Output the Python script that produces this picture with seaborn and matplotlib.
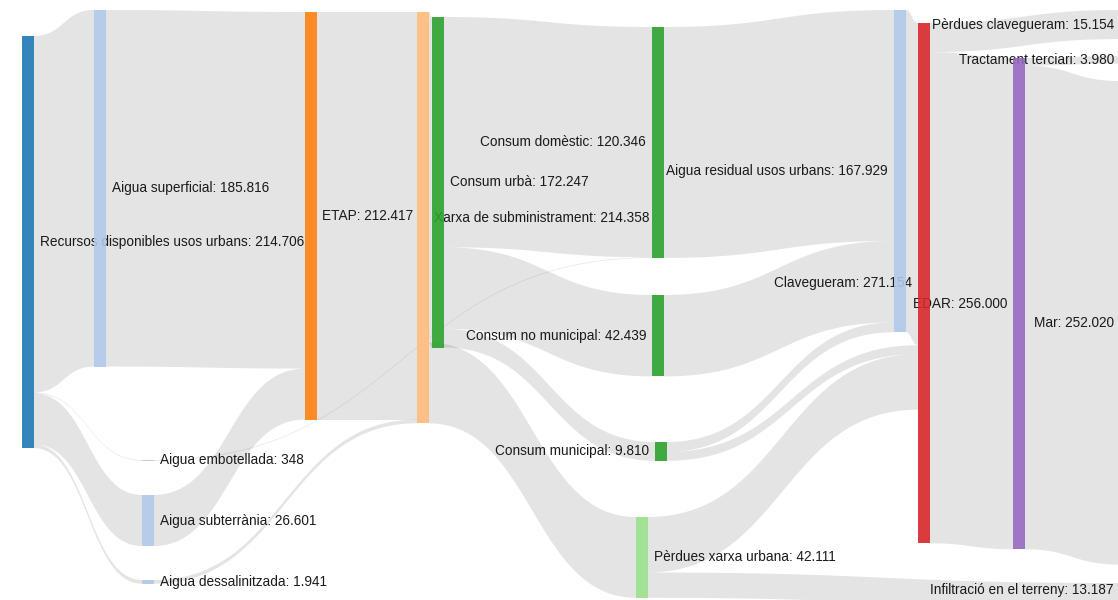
import numpy as np
import matplotlib
matplotlib.use("Agg")
import matplotlib.pyplot as plt
import seaborn as sns

# ---- data: nodes and flows (thousands of m3) ----
node_names = [
    "Recursos disponibles usos urbans", "Aigua superficial", "Aigua embotellada",
    "Aigua subterrània", "Aigua dessalinitzada", "ETAP", "Xarxa de subministrament",
    "Consum urbà", "Consum domèstic", "Consum no municipal", "Consum municipal",
    "Pèrdues xarxa urbana", "Aigua residual usos urbans", "Clavegueram", "EDAR",
    "Mar", "Pèrdues clavegueram", "Tractament terciari", "Infiltració en el terreny",
]
link_source = [0, 0, 0, 0, 1, 3, 5, 4, 6, 6, 7, 2, 7, 7, 8, 9, 10, 10, 12, 11, 11, 13, 13, 14, 14]
link_target = [1, 2, 3, 4, 5, 5, 6, 6, 7, 11, 8, 8, 9, 10, 12, 12, 12, 13, 13, 13, 18, 16, 14, 15, 17]
link_value = [185816, 348, 26601, 1941, 185816, 26601, 212417, 1941, 172247, 42111,
              119998, 348, 42439, 9810, 120346, 42439, 5144, 4666, 167929, 28924,
              13187, 15154, 256000, 252020, 3980]

# ---- layout (pixel space, nodes dragged by hand in the original) ----
node_x = [22, 94, 142, 142, 142, 305, 417, 432, 652, 652, 655, 636, 894, 918, 1013,
          1120, 1120, 1120, 1120]
node_y = [36, 10, 460, 495, 580, 12, 12, 17, 27, 295, 442, 517, 10, 23, 58,
          81, 10, 56, 583]
node_color = [0, 1, 1, 1, 1, 2, 3, 4, 4, 4, 4, 5, 1, 6, 8, 1, 1, 1, 1]
label_side = ["r", "r", "r", "r", "r", "r", "r", "r", "l", "l", "l", "r", "l", "l", "l",
              "l", "l", "l", "l"]
NODE_W = 11.5
SCALE = 412 / 214706  # px per unit

sns.set_theme(style="white")
plt.rcParams["font.family"] = ["Liberation Sans", "DejaVu Sans"]
pal = sns.color_palette("tab20")

n = len(node_names)
val_in = np.zeros(n)
val_out = np.zeros(n)
for s, t, v in zip(link_source, link_target, link_value):
    val_out[s] += v
    val_in[t] += v
node_val = np.maximum(val_in, val_out)
node_h = node_val * SCALE
node_cy = np.array(node_y) + node_h / 2

fig = plt.figure(figsize=(11.18, 6.0), dpi=100)
ax = fig.add_axes([0, 0, 1, 1])
ax.set_xlim(0, 1118)
ax.set_ylim(600, 0)
ax.axis("off")

# stacking offsets, ordered by the y of the other end (like d3-sankey)
idx = range(len(link_value))
out_off = {}
in_off = {}
for i in range(n):
    outs = sorted([k for k in idx if link_source[k] == i], key=lambda k: node_cy[link_target[k]])
    y = node_y[i]
    for k in outs:
        out_off[k] = y
        y += link_value[k] * SCALE
    ins = sorted([k for k in idx if link_target[k] == i], key=lambda k: node_cy[link_source[k]])
    y = node_y[i]
    for k in ins:
        in_off[k] = y
        y += link_value[k] * SCALE

t = np.linspace(0, 1, 80)


def bez(a, b, c, d):
    return (1 - t) ** 3 * a + 3 * (1 - t) ** 2 * t * b + 3 * (1 - t) * t ** 2 * c + t ** 3 * d


for k in idx:
    s, g = link_source[k], link_target[k]
    w = link_value[k] * SCALE
    x0 = node_x[s] + NODE_W
    x1 = node_x[g]
    xm = (x0 + x1) / 2
    y0, y1 = out_off[k], in_off[k]
    xs = bez(x0, xm, xm, x1)
    top = bez(y0, y0, y1, y1)
    bot = bez(y0 + w, y0 + w, y1 + w, y1 + w)
    ax.fill(np.concatenate([xs, xs[::-1]]), np.concatenate([top, bot[::-1]]),
            color="black", alpha=0.105, lw=0, zorder=1)

# labels (drawn under the nodes, as in the original)
for i in range(n):
    txt = f"{node_names[i]}: {int(node_val[i]):,}".replace(",", ".")
    ly = min(node_cy[i], 590)  # keep the bottom label inside the canvas
    if label_side[i] == "r":
        ax.text(node_x[i] + NODE_W + 6, ly, txt, ha="left", va="center",
                fontsize=9.8, color="#1a1a1a", zorder=3)
    else:
        ax.text(node_x[i] - 6, ly, txt, ha="right", va="center",
                fontsize=9.8, color="#1a1a1a", zorder=3)

for i in range(n):
    ax.add_patch(plt.Rectangle((node_x[i], node_y[i]), NODE_W, max(node_h[i], 0.8),
                               facecolor=pal[node_color[i]], edgecolor="none",
                               alpha=0.9, zorder=4))

fig.savefig("out.png", dpi=100)
